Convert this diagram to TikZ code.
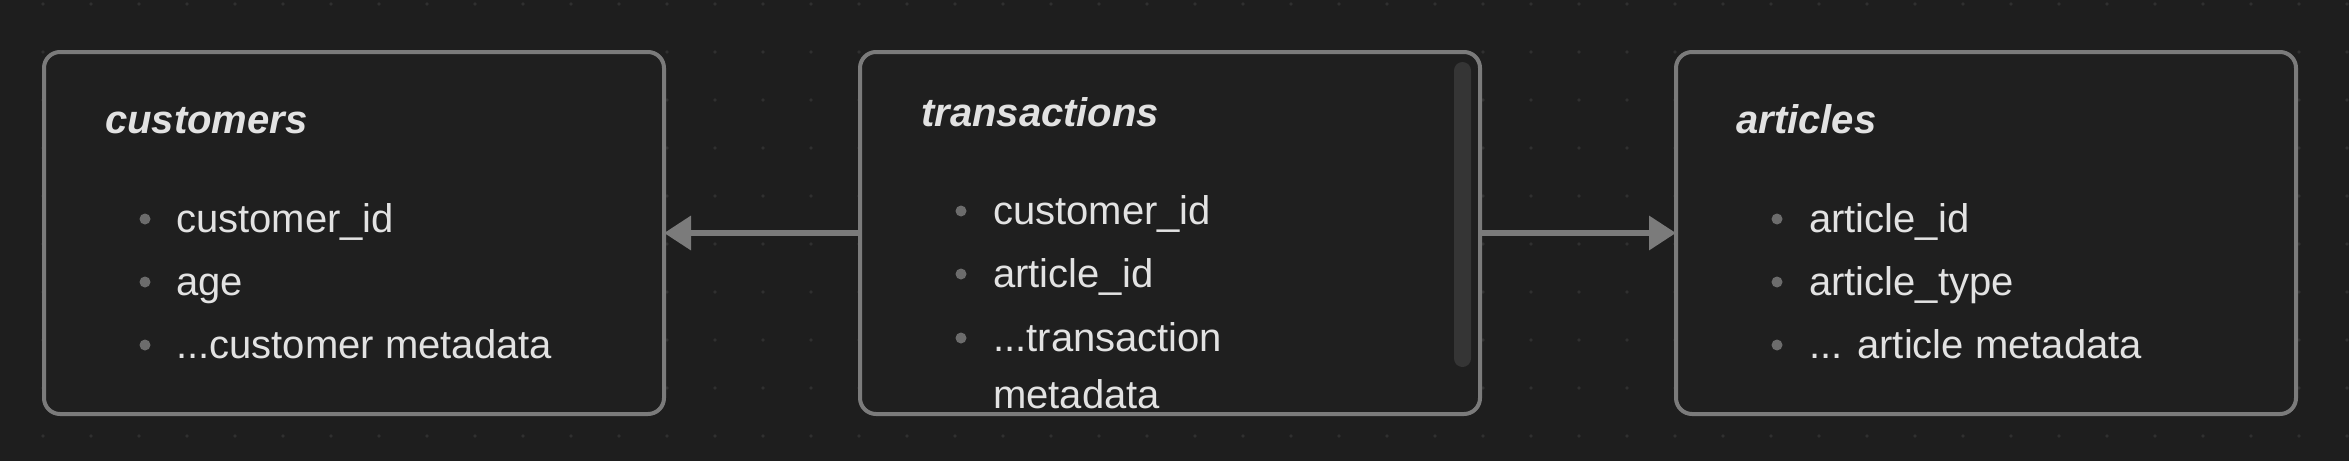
\documentclass[tikz,border=0pt]{standalone}
\usepackage{fontspec}
\setmainfont{Liberation Sans}
\usetikzlibrary{arrows.meta}
\definecolor{bgc}{HTML}{1E1E1E}
\definecolor{boxfill}{HTML}{1F1F1F}
\definecolor{bordc}{HTML}{7B7B7B}
\definecolor{txtc}{HTML}{E2E2E2}
\definecolor{bulc}{HTML}{6C6C6C}
\definecolor{dotc}{HTML}{303030}
\definecolor{scrollc}{HTML}{353535}
\tikzset{
  tablebox/.style={draw=bordc, fill=boxfill, line width=4pt, rounded corners=16pt,
    minimum width=620pt, minimum height=362pt, inner sep=0pt, outer sep=0pt},
  titletxt/.style={anchor=base west, inner sep=0pt, text=txtc,
    font=\fontsize{40}{48}\selectfont\bfseries\itshape},
  itemtxt/.style={anchor=base west, inner sep=0pt, text=txtc,
    font=\fontsize{40}{48}\selectfont},
  conn/.style={draw=bordc, line width=6.5pt, -{Triangle[length=27pt,width=33pt]}},
}
\begin{document}
\begin{tikzpicture}[x=1pt,y=-1pt]
\useasboundingbox (0,0) rectangle (2349,461);
\fill[bgc] (0,0) rectangle (2349,461);
% dot grid
\foreach \i in {0,...,48}{
  \foreach \j in {0,...,9}{
    \fill[dotc] ({43+48*\i},{4+48*\j}) circle (1.8);
  }
}
% boxes
\node[tablebox] (cust) at (354,233) {};
\node[tablebox] (trans) at (1170,233) {};
\node[tablebox] (art) at (1986,233) {};
% scrollbar
\fill[scrollc, rounded corners=8.5pt] (1454,62) rectangle (1471,367);
% customers
\node[titletxt] (custtitle) at (105,133) {customers};
\foreach \y in {232,295,358}{\fill[bulc] (145,\y-13) circle (5.5);}
\node[itemtxt] (c1) at (176,232) {customer\_id};
\node[itemtxt] (c2) at (176,295) {age};
\node[itemtxt] (c3) at (176,358) {...customer metadata};
% transactions
\node[titletxt] (transtitle) at (921,126) {transactions};
\foreach \y in {224,287,351}{\fill[bulc] (961,\y-13) circle (5.5);}
\node[itemtxt] (t1) at (993,224) {customer\_id};
\node[itemtxt] (t2) at (993,287) {article\_id};
\node[itemtxt] (t3) at (993,351) {...transaction};
\node[itemtxt] (t3b) at (993,408) {metadata};
% articles
\node[titletxt] (arttitle) at (1736,133) {articles};
\foreach \y in {232,295,358}{\fill[bulc] (1777,\y-13) circle (5.5);}
\node[itemtxt] (a1) at (1809,232) {article\_id};
\node[itemtxt] (a2) at (1809,295) {article\_type};
\node[itemtxt] (a3) at (1809,358) {... article metadata};
% connectors
\draw[conn] (trans.west) -- (cust.east);
\draw[conn] (trans.east) -- (art.west);
\end{tikzpicture}
\end{document}
